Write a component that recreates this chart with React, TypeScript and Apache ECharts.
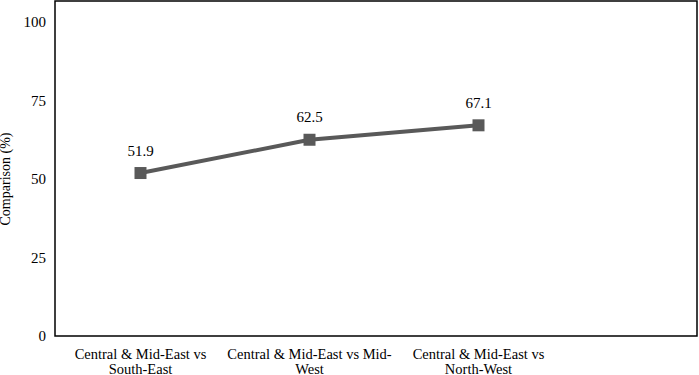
import React, { useEffect, useRef } from "react";
import * as echarts from "echarts";

const categories = [
  "Central & Mid-East vs\nSouth-East",
  "Central & Mid-East vs Mid-\nWest",
  "Central & Mid-East vs\nNorth-West",
  "",
];
const values: (number | null)[] = [51.9, 62.5, 67.1, null];
const yTicks = [0, 25, 50, 75, 100];

const FONT = "Liberation Serif, Times New Roman, serif";

export default function App() {
  const ref = useRef<HTMLDivElement>(null);
  useEffect(() => {
    const chart = echarts.init(ref.current!, null, { renderer: "svg" });
    chart.setOption({
      animation: false,
      textStyle: { fontFamily: FONT },
      grid: { left: 56, right: -33, top: 22, bottom: 39, outerBoundsMode: "none", containLabel: false },
      graphic: [
        {
          type: "rect",
          shape: { x: 55, y: 1, width: 642, height: 335 },
          style: { fill: "none", stroke: "#000", lineWidth: 1.5 },
          z: 10,
        },
      ],
      xAxis: {
        type: "category",
        data: categories,
        boundaryGap: true,
        axisLine: { show: false },
        axisTick: { show: false },
        axisLabel: {
          interval: 0,
          color: "#000",
          fontFamily: FONT,
          fontSize: 14.5,
          lineHeight: 15,
          margin: 10,
        },
      },
      yAxis: {
        type: "value",
        min: yTicks[0],
        max: yTicks[yTicks.length - 1],
        interval: 25,
        name: "Comparison (%)",
        nameLocation: "middle",
        nameGap: 37,
        nameTextStyle: { color: "#000", fontFamily: FONT, fontSize: 14 },
        splitLine: { show: false },
        axisLine: { show: false },
        axisTick: { show: false },
        axisLabel: { color: "#000", fontFamily: FONT, fontSize: 15, margin: 10 },
      },
      series: [
        {
          type: "line",
          data: values,
          symbol: "rect",
          symbolSize: 12,
          lineStyle: { color: "#595959", width: 4 },
          itemStyle: { color: "#595959" },
          label: {
            show: true,
            position: "top",
            distance: 9,
            color: "#000",
            fontFamily: FONT,
            fontSize: 15,
            formatter: (p: any) => p.value.toFixed(1),
          },
        },
      ],
    });
    return () => chart.dispose();
  }, []);
  return (
    <div
      ref={ref}
      style={{ position: "fixed", left: 0, top: 0, width: 699, height: 375, background: "#fff" }}
    />
  );
}
